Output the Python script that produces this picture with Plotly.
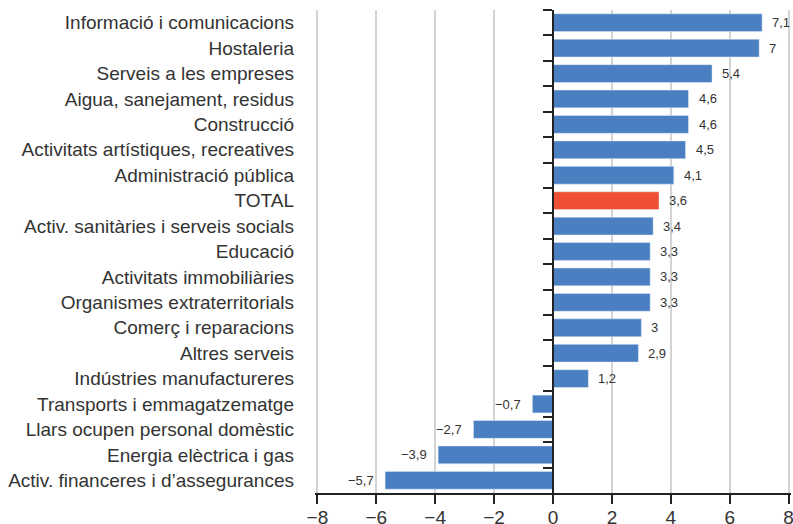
import plotly.graph_objects as go

categories = [
    "Informació i comunicacions",
    "Hostaleria",
    "Serveis a les empreses",
    "Aigua, sanejament, residus",
    "Construcció",
    "Activitats artístiques, recreatives",
    "Administració pública",
    "TOTAL",
    "Activ. sanitàries i serveis socials",
    "Educació",
    "Activitats immobiliàries",
    "Organismes extraterritorials",
    "Comerç i reparacions",
    "Altres serveis",
    "Indústries manufactureres",
    "Transports i emmagatzematge",
    "Llars ocupen personal domèstic",
    "Energia elèctrica i gas",
    "Activ. financeres i d’assegurances",
]
values = [7.1, 7.0, 5.4, 4.6, 4.6, 4.5, 4.1, 3.6, 3.4, 3.3, 3.3, 3.3, 3.0, 2.9, 1.2, -0.7, -2.7, -3.9, -5.7]
x_ticks = [-8, -6, -4, -2, 0, 2, 4, 6, 8]

BLUE = "#4a7fc1"
RED = "#ef4f33"
TXT = "#333333"
FONT = "Liberation Sans, Arial, sans-serif"


def fmt(v):
    s = ("%g" % abs(v)).replace(".", ",")
    return ("\u2212" + s) if v < 0 else s


def fmt_tick(v):
    return ("\u2212" + str(abs(v))) if v < 0 else str(v)


colors = [RED if c == "TOTAL" else BLUE for c in categories]

fig = go.Figure()
fig.add_trace(go.Bar(
    x=values, y=categories, orientation="h",
    marker=dict(color=colors, line=dict(width=0)),
    hoverinfo="skip", showlegend=False,
))
# invisible copy on the free axis drawn at x = 0 (axis line + boundary ticks)
fig.add_trace(go.Bar(
    x=values, y=categories, orientation="h", yaxis="y2",
    marker=dict(color="rgba(0,0,0,0)"),
    hoverinfo="skip", showlegend=False,
))

for c, v in zip(categories, values):
    fig.add_annotation(
        x=v, y=c, text=fmt(v), showarrow=False,
        xanchor="left" if v >= 0 else "right",
        xshift=8 if v >= 0 else -9,
        font=dict(size=13, color=TXT, family=FONT),
    )

fig.update_layout(
    width=793, height=524,
    margin=dict(l=315, r=2, t=10, b=31),
    paper_bgcolor="white", plot_bgcolor="white",
    bargap=0.3,
    font=dict(family=FONT, color=TXT, size=19),
    xaxis=dict(
        range=[-8.08, 8.08], tickvals=x_ticks, ticktext=[fmt_tick(t) for t in x_ticks],
        showgrid=True, gridcolor="#d3d3d3", gridwidth=1.5,
        zeroline=False,
        showline=True, linecolor="#222222", linewidth=1.5,
        ticks="outside", ticklen=9, tickcolor="#222222", tickwidth=1.5,
        tickfont=dict(size=19, color=TXT),
        ticklabelstandoff=-3, ticklabeloverflow="allow",
        fixedrange=True, automargin=False,
    ),
    yaxis=dict(
        categoryorder="array", categoryarray=categories,
        autorange="reversed",
        showline=False, ticks="", showgrid=False, zeroline=False,
        ticklabelstandoff=20,
        tickfont=dict(size=19, color=TXT),
        automargin=False, fixedrange=True,
    ),
    yaxis2=dict(
        overlaying="y", matches="y", anchor="free", position=0.5, side="left",
        categoryorder="array", categoryarray=categories,
        showline=True, linecolor="#222222", linewidth=1.5,
        ticks="outside", tickson="boundaries", ticklen=9, tickcolor="#222222", tickwidth=1.5,
        showticklabels=False, showgrid=False, zeroline=False,
        automargin=False,
    ),
)

fig.write_html(
    "out.html",
    config={"displayModeBar": False},
    post_script="document.body.style.margin='0';document.body.style.overflow='hidden';",
)
